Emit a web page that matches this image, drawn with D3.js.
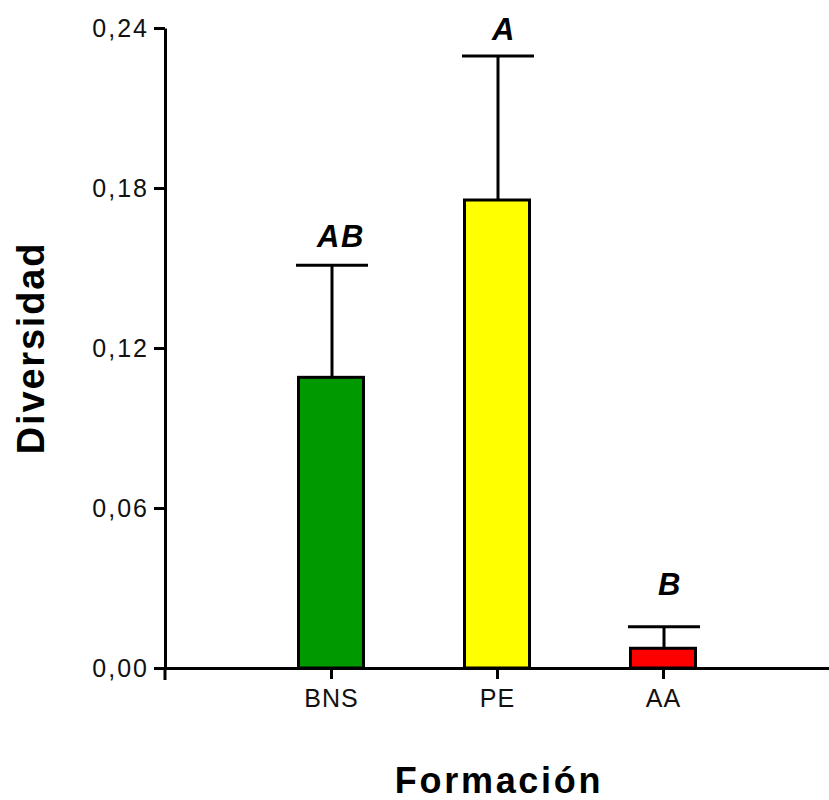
<!DOCTYPE html>
<html>
<head>
<meta charset="utf-8">
<script src="https://cdn.jsdelivr.net/npm/d3@7"></script>
<style>
  body { margin: 0; background: #fff; }
  svg { display: block; }
</style>
</head>
<body>
<svg id="chart" width="829" height="800"></svg>
<script>
// ---- data ----
const categories = ["BNS", "PE", "AA"];
const means = [0.109, 0.1755, 0.0074];
const errors = [0.042, 0.054, 0.0081];   // upper error (SE)
const letters = ["AB", "A", "B"];
const letterLevels = [0.1579, 0.2355, 0.0274];
const colors = ["#009900", "#FFFF00", "#FF0000"];
const yTicks = [0, 0.06, 0.12, 0.18, 0.24];

// ---- layout ----
const svg = d3.select("#chart");
const x0 = 165, x1 = 829, yTop = 28, yBot = 668;
const barW = 65, capW = 72;

const x = d3.scalePoint().domain(categories).range([x0, x1]).padding(1);
const y = d3.scaleLinear().domain([0, 0.24]).range([yBot, yTop]);
const fmt = v => d3.format(".2f")(v).replace(".", ",");

const font = "'Liberation Sans', Arial, sans-serif";

// bars
svg.append("g").selectAll("rect").data(categories).join("rect")
  .attr("x", d => x(d) - barW / 2)
  .attr("width", barW)
  .attr("y", (d, i) => y(means[i]))
  .attr("height", (d, i) => y(0) - y(means[i]))
  .attr("fill", (d, i) => colors[i])
  .attr("stroke", "#000")
  .attr("stroke-width", 3);

// error bars
const eb = svg.append("g").attr("stroke", "#000").attr("stroke-width", 3);
categories.forEach((c, i) => {
  const cx = x(c) + 1;
  eb.append("line").attr("x1", cx).attr("x2", cx)
    .attr("y1", y(means[i])).attr("y2", y(means[i] + errors[i]));
  eb.append("line").attr("x1", cx - capW / 2).attr("x2", cx + capW / 2)
    .attr("y1", y(means[i] + errors[i])).attr("y2", y(means[i] + errors[i]));
});

// letters
svg.append("g").selectAll("text").data(categories).join("text")
  .attr("x", (d, i) => x(d) + 7 + (letters[i].length > 1 ? 3 : 0))
  .attr("y", (d, i) => y(letterLevels[i]))
  .attr("text-anchor", "middle")
  .attr("font-family", font)
  .attr("font-weight", "bold")
  .attr("font-style", "italic")
  .attr("font-size", 31)
  .attr("letter-spacing", 1.5)
  .text((d, i) => letters[i]);

// y axis
const yAxis = svg.append("g").attr("transform", `translate(${x0},0)`)
  .call(d3.axisLeft(y).tickValues(yTicks).tickFormat(fmt).tickSize(11).tickSizeOuter(0).tickPadding(5));
yAxis.select(".domain").attr("stroke-width", 3);
yAxis.selectAll(".tick line").attr("stroke-width", 3);
yAxis.selectAll(".tick text").attr("font-family", font).attr("font-size", 25)
  .attr("letter-spacing", 2).attr("fill", "#111");

// x axis
const xAxis = svg.append("g").attr("transform", `translate(0,${yBot})`)
  .call(d3.axisBottom(x).tickSize(11).tickSizeOuter(0).tickPadding(10));
xAxis.select(".domain").attr("stroke-width", 3);
xAxis.selectAll(".tick line").attr("stroke-width", 3);
xAxis.selectAll(".tick text").attr("font-family", font).attr("font-size", 25)
  .attr("letter-spacing", 1).attr("fill", "#111");
// y axis extends below the x axis
xAxis.append("line").attr("x1", x0).attr("x2", x0).attr("y1", 0).attr("y2", 12)
  .attr("stroke", "#000").attr("stroke-width", 3);

// axis titles
svg.append("text")
  .attr("transform", `translate(44,348) rotate(-90)`)
  .attr("text-anchor", "middle")
  .attr("font-family", font).attr("font-weight", "bold")
  .attr("font-size", 38).attr("letter-spacing", 1.8)
  .text("Diversidad");

svg.append("text")
  .attr("x", 499).attr("y", 793)
  .attr("text-anchor", "middle")
  .attr("font-family", font).attr("font-weight", "bold")
  .attr("font-size", 36).attr("letter-spacing", 2.7)
  .text("Formación");
</script>
</body>
</html>
